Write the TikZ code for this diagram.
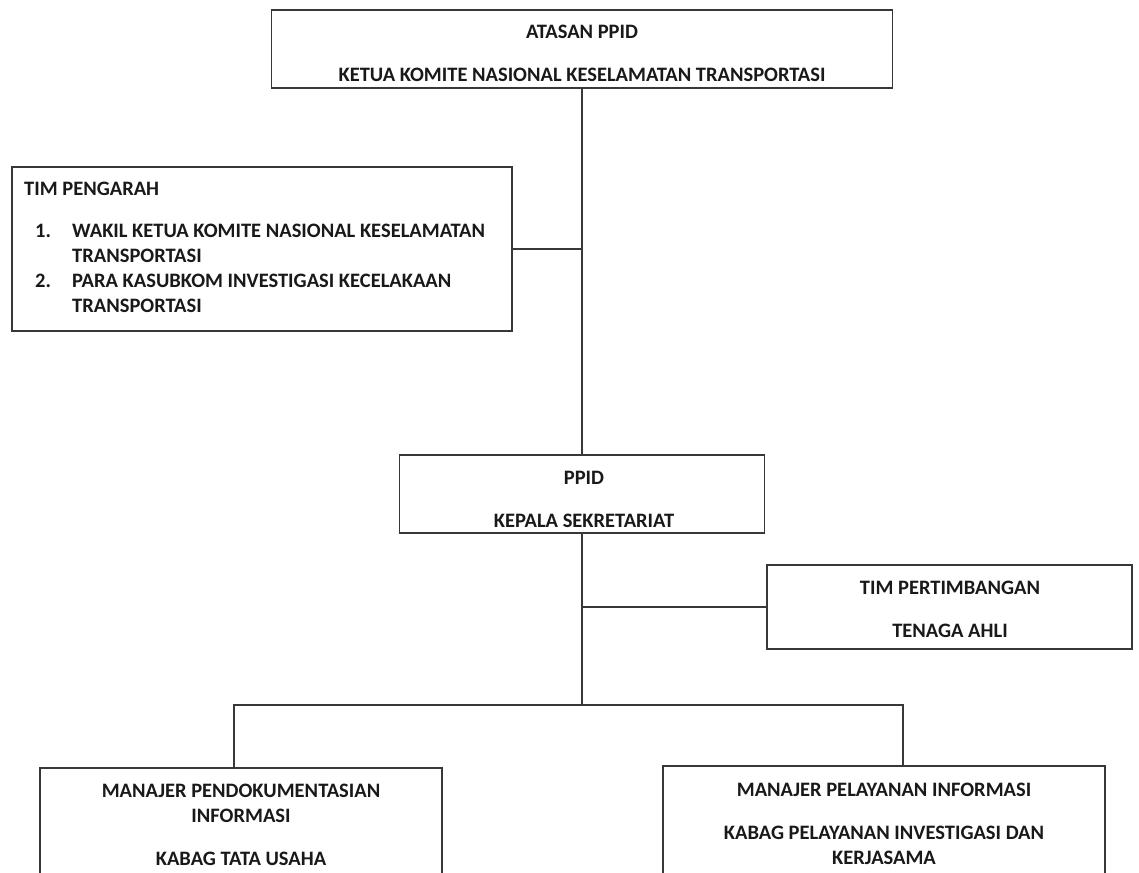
\documentclass[tikz,border=0pt]{standalone}
\usepackage{fontspec}
\setmainfont{Carlito}
\usetikzlibrary{positioning}
\usetikzlibrary{calc}

\begin{document}
\begin{tikzpicture}[x=1pt,y=-1pt,
    kotak/.style={draw=black!78,line width=1.7pt,inner sep=0pt},
    garis/.style={draw=black!78,line width=1.4pt},
    teks/.style={font=\fontsize{20.5}{25}\selectfont\bfseries,text=black!90,inner sep=0pt,anchor=base},
    teksk/.style={teks,anchor=base west}]
    \clip (0,0) rectangle (1139,872);
    \fill[white] (0,0) rectangle (1139,872);

    % kotak-kotak
    \node[kotak,minimum width=621pt,minimum height=78pt] (atasan) at (582,49) {};
    \node[kotak,minimum width=500pt,minimum height=164pt] (pengarah) at (262,249) {};
    \node[kotak,minimum width=365pt,minimum height=78pt] (ppid) at (582,494) {};
    \node[kotak,minimum width=365pt,minimum height=84pt] (pertimbangan) at (949.5,607) {};
    \node[kotak,minimum width=402pt,minimum height=132pt] (dokumentasi) at (241,834) {};
    \node[kotak,minimum width=442pt,minimum height=132pt] (pelayanan) at (884,832) {};

    % teks
    \node[teks] (t1) at (582,39) {ATASAN PPID};
    \node[teks] (t2) at (582,82) {KETUA KOMITE NASIONAL KESELAMATAN TRANSPORTASI};

    \node[teksk] (t3) at (24,195) {TIM PENGARAH};
    \node[teksk] (n1) at (35,237) {1.};
    \node[teksk] (t4) at (72,237) {WAKIL KETUA KOMITE NASIONAL KESELAMATAN};
    \node[teksk] (t5) at (72,262) {TRANSPORTASI};
    \node[teksk] (n2) at (35,287) {2.};
    \node[teksk] (t6) at (72,287) {PARA KASUBKOM INVESTIGASI KECELAKAAN};
    \node[teksk] (t7) at (72,312) {TRANSPORTASI};

    \node[teks] (t8) at (584,484) {PPID};
    \node[teks] (t9) at (584,527) {KEPALA SEKRETARIAT};

    \node[teks] (t10) at (950,594) {TIM PERTIMBANGAN};
    \node[teks] (t11) at (950,637) {TENAGA AHLI};

    \node[teks] (t12) at (241,797) {MANAJER PENDOKUMENTASIAN};
    \node[teks] (t13) at (241,822) {INFORMASI};
    \node[teks] (t14) at (241,865) {KABAG TATA USAHA};

    \node[teks] (t15) at (884,796) {MANAJER PELAYANAN INFORMASI};
    \node[teks] (t16) at (884,839) {KABAG PELAYANAN INVESTIGASI DAN};
    \node[teks] (t17) at (884,864) {KERJASAMA};

    % garis
    \coordinate (cabang) at (582,705);
    \coordinate (ki) at (234,705);
    \coordinate (ka) at (903,705);
    \draw[garis] (atasan.south) -- (ppid.north);
    \draw[garis] (pengarah.east) -- (pengarah.east -| atasan.south);
    \draw[garis] (ppid.south) -- (cabang);
    \draw[garis] (pertimbangan.west) -- (pertimbangan.west -| ppid.south);
    \draw[garis] (ki |- dokumentasi.north) -- (ki) -- (ka) -- (ka |- pelayanan.north);
\end{tikzpicture}
\end{document}
